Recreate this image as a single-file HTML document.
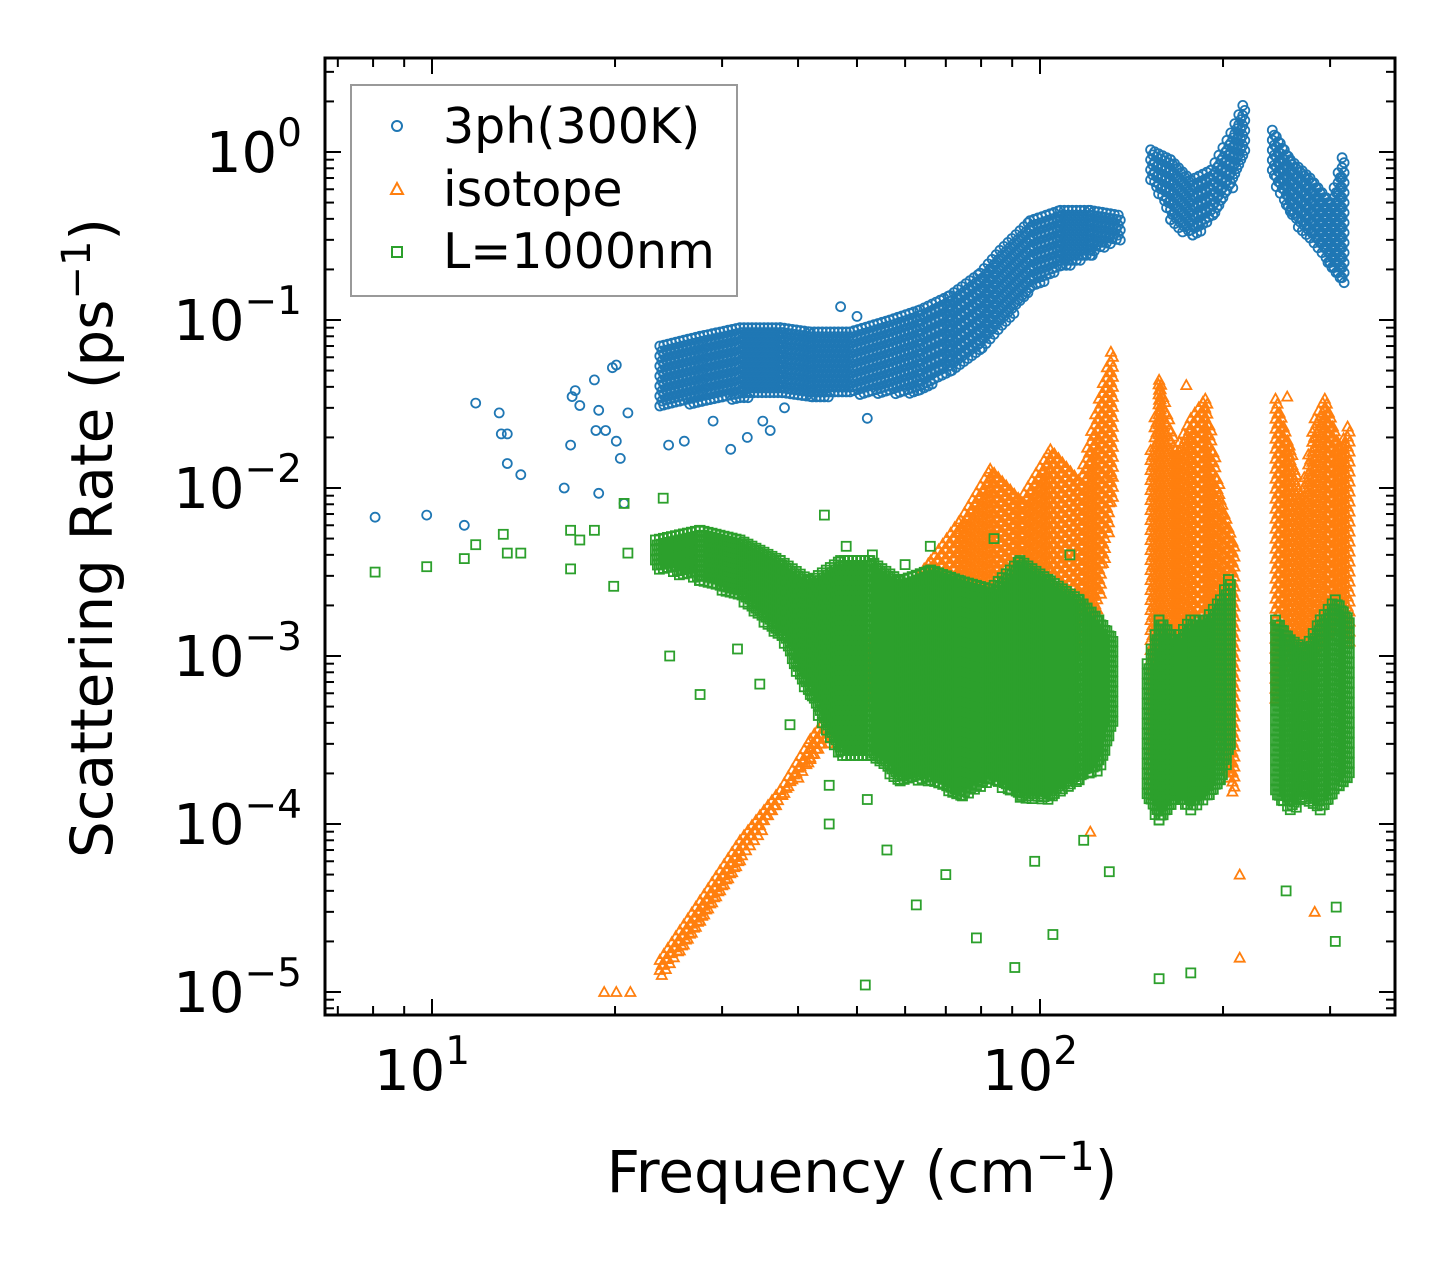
<!DOCTYPE html>
<html><head><meta charset="utf-8"><style>
html,body{margin:0;padding:0;background:#fff;}
svg{display:block;font-family:"DejaVu Sans","Liberation Sans",sans-serif;}
</style></head><body>
<svg id="chart" width="1455" height="1265" viewBox="0 0 1455 1265" xmlns="http://www.w3.org/2000/svg">
<rect width="1455" height="1265" fill="#fff"/>
<defs><clipPath id="clip"><rect x="325" y="58" width="1070" height="957"/></clipPath></defs>
<g id="marks" clip-path="url(#clip)"></g>
<g id="axes"></g>
<text x="862" y="1192" font-size="58" text-anchor="middle">Frequency (cm<tspan dy="-22" font-size="40">−1</tspan><tspan dy="22">)</tspan></text>
<text transform="translate(112,538) rotate(-90)" font-size="58" text-anchor="middle">Scattering Rate (ps<tspan dy="-22" font-size="40">−1</tspan><tspan dy="22">)</tspan></text>
<g>
<rect x="351" y="85" width="386" height="211" fill="#fff" stroke="#999" stroke-width="2"/>
<circle cx="397" cy="126" r="5" fill="none" stroke="#1f77b4" stroke-width="2"/>
<text x="443" y="143" font-size="49">3ph(300K)</text>
<polygon points="397,183 403,194 391,194" fill="none" stroke="#ff7f0e" stroke-width="2"/>
<text x="443" y="206" font-size="49">isotope</text>
<rect x="392" y="247" width="10" height="10" fill="none" stroke="#2ca02c" stroke-width="2"/>
<text x="443" y="268" font-size="49">L=1000nm</text>
</g>
</svg>
<script>
// ---- data (frequency cm^-1, rate ps^-1) ----
const xTickValues = [10, 100];
const xTickLabels = ["1", "2"];
const yTickValues = [1, 0.1, 0.01, 0.001, 1e-4, 1e-5];
const yTickLabels = ["0", "−1", "−2", "−3", "−4", "−5"];

const blueFreq = [8.06,9.8,11.3,11.8,12.9,13.0,13.3,13.3,14.0,16.9,17.0,17.2,17.5,18.5,18.8,16.5,18.8,18.6,19.3,19.8,20.1,20.1,20.4,21.0,20.7,24.5,26,29,31,33,35,36,38,47,50,52];
const blueRate = [0.0067,0.0069,0.006,0.032,0.028,0.021,0.021,0.014,0.012,0.018,0.035,0.038,0.031,0.044,0.029,0.010,0.0093,0.022,0.022,0.052,0.054,0.019,0.015,0.028,0.0081,0.018,0.019,0.025,0.017,0.02,0.025,0.022,0.03,0.12,0.105,0.026];
// dense bands: [freq, lowRate, highRate]
const blueBands = [
 [[23.7,0.03,0.07],[27.6,0.032,0.08],[32.1,0.034,0.09],[37.4,0.036,0.09],[41.9,0.034,0.085],[48.7,0.036,0.085],[56.6,0.036,0.1],[63.5,0.036,0.115],[71.1,0.05,0.14],[79.7,0.066,0.19],[85.9,0.087,0.26],[96.3,0.15,0.39],[108,0.2,0.45],[121,0.24,0.45],[135,0.3,0.42]],
 [[152,0.68,1.03],[164,0.39,0.9],[177,0.3,0.68],[191,0.4,0.78],[206,0.6,1.3],[217,1.0,2.0]],
 [[241,0.7,1.35],[258,0.4,0.9],[278,0.3,0.7],[300,0.2,0.5],[318,0.15,1.1]]
];

const orangeFreq = [19.2,20.1,21.2,121,174,213,255,283,311,131,213];
const orangeRate = [1e-5,1e-5,1e-5,9e-5,0.041,1.6e-5,0.035,3e-5,0.014,0.012,5e-5];
const orangeBands = [
 [[23.7,1.2e-5,1.55e-5],[27.6,2.6e-5,3.5e-5],[32.1,6e-5,8e-5],[37.4,1.4e-4,1.6e-4],[41.9,2.4e-4,3.2e-4],[47,3.6e-4,5.5e-4],[52.5,5.5e-4,1.25e-3],[58.9,7.2e-4,2.2e-3],[66.1,5.5e-4,3.7e-3],[74,5.5e-4,6.5e-3],[82.8,5.5e-4,1.3e-2],[92.7,5.5e-4,8.5e-3],[104,1e-3,1.7e-2],[116,1e-3,1.1e-2],[125,2.2e-3,3.4e-2],[131,8.5e-3,6.6e-2]],
 [[152,1.4e-4,0.0168],[157,5.5e-4,0.044],[167,1.1e-3,0.0168],[177,5.5e-4,0.026],[187,1.1e-3,0.034],[198,2.4e-4,0.0085],[209,1.4e-4,0.0043]],
 [[244,5.5e-4,0.034],[258,1.1e-3,0.0168],[268,5.5e-4,0.0085],[283,1.1e-3,0.026],[294,1.2e-3,0.034],[311,1.6e-3,0.0168],[324,1.1e-3,0.026]]
];

const greenFreq = [8.06,9.8,11.3,11.8,13.1,13.3,14,16.9,16.9,17.5,18.5,19.9,20.7,21,24,24.6,27.6,31.8,34.6,38.8,44.2,51.6,62.6,78.6,90.9,105,130,157,177,306,307,254,45,56,70,98,118,48,53,60,66,84,112,45,52];
const greenRate = [3.16e-3,3.4e-3,3.8e-3,4.6e-3,5.3e-3,4.1e-3,4.1e-3,5.6e-3,3.3e-3,4.9e-3,5.6e-3,2.6e-3,8.1e-3,4.1e-3,8.7e-3,1e-3,5.9e-4,1.1e-3,6.8e-4,3.9e-4,6.9e-3,1.1e-5,3.3e-5,2.1e-5,1.4e-5,2.2e-5,5.2e-5,1.2e-5,1.3e-5,2e-5,3.2e-5,4e-5,1e-4,7e-5,5e-5,6e-5,8e-5,4.5e-3,4e-3,3.5e-3,4.5e-3,5e-3,4e-3,1.7e-4,1.4e-4];
const greenBands = [
 [[23.3,3.3e-3,4.9e-3],[27.6,2.8e-3,5.6e-3],[32.1,2.16e-3,4.9e-3],[37.4,1.25e-3,3.7e-3],[41.9,5.5e-4,2.8e-3],[47,2.4e-4,3.7e-3],[52.5,2.4e-4,3.7e-3],[58.9,1.8e-4,2.8e-3],[66.1,1.8e-4,3.25e-3],[74,1.4e-4,2.8e-3],[82.8,1.8e-4,2.5e-3],[92.7,1.4e-4,3.7e-3],[104,1.4e-4,2.8e-3],[116,1.8e-4,2.16e-3],[125,2.1e-4,1.64e-3],[132,4.1e-4,1.25e-3]],
 [[150,1.4e-4,9e-4],[157,1.0e-4,1.64e-3],[167,1.4e-4,1.25e-3],[177,1.2e-4,1.64e-3],[187,1.4e-4,1.64e-3],[198,1.8e-4,2.16e-3],[207,3.1e-4,3.25e-3]],
 [[244,1.4e-4,1.64e-3],[258,1.2e-4,1.25e-3],[273,1.4e-4,1.1e-3],[289,1.2e-4,1.64e-3],[306,1.6e-4,2.16e-3],[322,1.8e-4,1.64e-3]]
];

// ---- axis functions ----
const X0=432, XDEC=608, Y0=152, YDEC=168;
function xs(f){return X0+(Math.log10(f)-1)*XDEC;}
function ys(r){return Y0-Math.log10(r)*YDEC;}
const NS="http://www.w3.org/2000/svg";
const marks=document.getElementById('marks');
const axes=document.getElementById('axes');
const colors={blue:"#1f77b4",orange:"#ff7f0e",green:"#2ca02c"};

function marker(kind,x,y,name){
  let el;
  if(kind==="blue"){el=document.createElementNS(NS,"circle");el.setAttribute("cx",x.toFixed(1));el.setAttribute("cy",y.toFixed(1));el.setAttribute("r","4.5");}
  else if(kind==="orange"){el=document.createElementNS(NS,"polygon");el.setAttribute("points",`${x.toFixed(1)},${(y-5).toFixed(1)} ${(x+5).toFixed(1)},${(y+4).toFixed(1)} ${(x-5).toFixed(1)},${(y+4).toFixed(1)}`);}
  else {el=document.createElementNS(NS,"rect");el.setAttribute("x",(x-4.5).toFixed(1));el.setAttribute("y",(y-4.5).toFixed(1));el.setAttribute("width","9");el.setAttribute("height","9");}
  el.setAttribute("fill","none");
  el.setAttribute("stroke",colors[kind]);
  el.setAttribute("stroke-width","1.8");
  
  
  return el;
}
function drawSeries(kind,freqs,rates,bands,name){
  const g=document.createElementNS(NS,"g");
  
  
  bands.forEach(group=>{
    for(let i=0;i<group.length-1;i++){
      const a=group[i], b=group[i+1];
      const xa=xs(a[0]), xb=xs(b[0]);
      for(let x=xa;x<=xb;x+=4){
        const t=(x-xa)/(xb-xa||1);
        const lo=ys(a[1])+(ys(b[1])-ys(a[1]))*t;
        const hi=ys(a[2])+(ys(b[2])-ys(a[2]))*t;
        let k=0;
        for(let y=hi;y<=lo;y+=5){
          g.appendChild(marker(kind,x+((k++%2)?2:0),y,name+'-point'));
        }
      }
    }
  });
  freqs.forEach((f,i)=>g.appendChild(marker(kind,xs(f),ys(rates[i]),name+'-point')));
  marks.appendChild(g);
}
drawSeries("blue",blueFreq,blueRate,blueBands,"3ph");
drawSeries("orange",orangeFreq,orangeRate,orangeBands,"isotope");
drawSeries("green",greenFreq,greenRate,greenBands,"boundary");

// ---- axes ----
function line(x1,y1,x2,y2,w,name){
  const l=document.createElementNS(NS,"line");
  l.setAttribute("x1",x1);l.setAttribute("y1",y1);l.setAttribute("x2",x2);l.setAttribute("y2",y2);
  l.setAttribute("stroke","#000");l.setAttribute("stroke-width",w);
  
  
  axes.appendChild(l);
}
const L=325,R=1395,T=58,B=1015;
const frame=document.createElementNS(NS,"rect");
frame.setAttribute("x",L);frame.setAttribute("y",T);frame.setAttribute("width",R-L);frame.setAttribute("height",B-T);
frame.setAttribute("fill","none");frame.setAttribute("stroke","#000");frame.setAttribute("stroke-width","3");


axes.appendChild(frame);
for(let d=0;d<=2;d++){
  for(let m=1;m<=9;m++){
    const f=Math.pow(10,d)*m, x=xs(f);
    if(x<L||x>R) continue;
    const len=m===1?16:9;
    line(x,B,x,B-len,2,'x-tick');
    line(x,T,x,T+len,2,'x-tick-top');
  }
}
for(let d=-6;d<=0;d++){
  for(let m=1;m<=9;m++){
    const r=Math.pow(10,d)*m, y=ys(r);
    if(y<T||y>B) continue;
    const len=m===1?16:9;
    line(L,y,L+len,y,2,'y-tick');
    line(R,y,R-len,y,2,'y-tick-right');
  }
}
xTickValues.forEach((v,i)=>{
  const t=document.createElementNS(NS,"text");
  t.setAttribute("x",xs(v)-10);t.setAttribute("y",1090);t.setAttribute("font-size","56");t.setAttribute("text-anchor","middle");
  
  
  t.innerHTML='10<tspan dy="-26" font-size="39">'+xTickLabels[i]+'</tspan>';
  axes.appendChild(t);
});
yTickValues.forEach((v,i)=>{
  const t=document.createElementNS(NS,"text");
  t.setAttribute("x",302);t.setAttribute("y",ys(v)+20);t.setAttribute("font-size","56");t.setAttribute("text-anchor","end");
  
  
  t.innerHTML='10<tspan dy="-26" font-size="39">'+yTickLabels[i]+'</tspan>';
  axes.appendChild(t);
});
</script>
</body></html>
